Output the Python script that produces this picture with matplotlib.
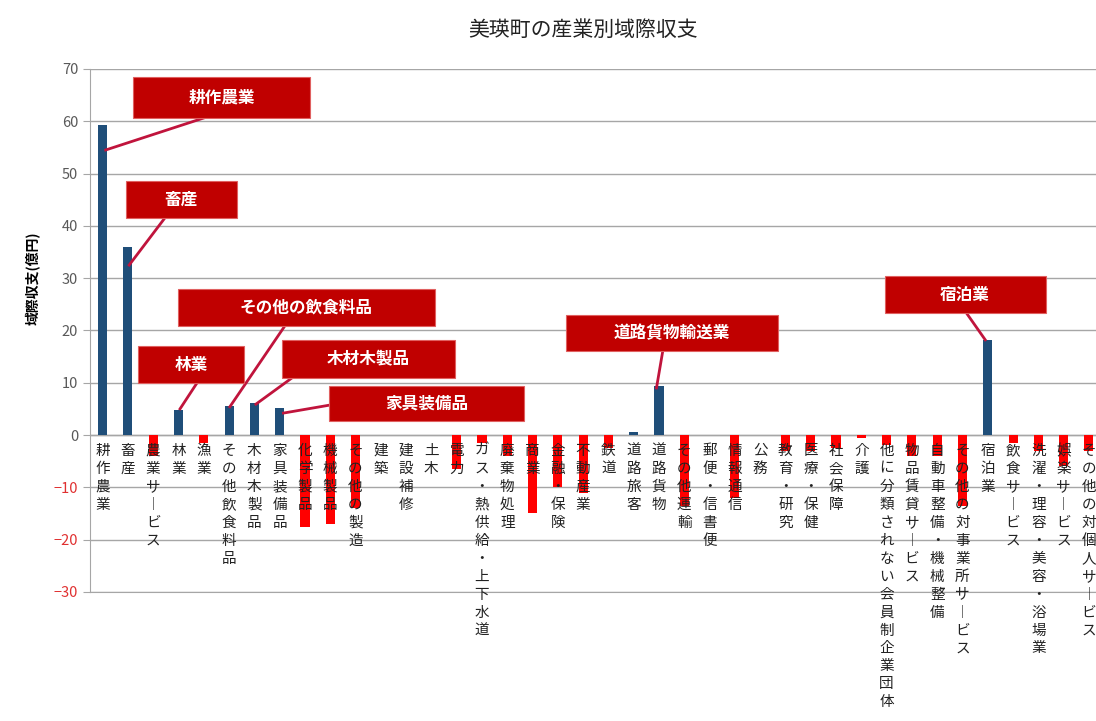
import matplotlib.pyplot as plt
from matplotlib.patches import Rectangle

plt.rcParams['font.family'] = ['Noto Sans CJK JP', 'DejaVu Sans']

# 産業 (左から順)
industries = [
    '耕作農業', '畜産', '農業サービス', '林業', '漁業',
    'その他飲食料品', '木材木製品', '家具装備品', '化学製品', '機械製品',
    'その他の製造', '建築', '建設補修', '土木', '電力',
    'ガス・熱供給・上下水道', '廃棄物処理', '商業', '金融・保険', '不動産業',
    '鉄道', '道路旅客', '道路貨物', 'その他運輸', '郵便・信書便',
    '情報通信', '公務', '教育・研究', '医療・保健', '社会保障',
    '介護', '他に分類されない会員制企業団体', '物品賃貸サービス', '自動車整備・機械整備', 'その他の対事業所サービス',
    '宿泊業', '飲食サービス', '洗濯・理容・美容・浴場業', '娯楽サービス', 'その他の対個人サービス',
]
# 域際収支 (億円)
balance = [
    59.2, 36.0, -4.0, 4.8, -1.5,
    5.6, 6.2, 5.1, -17.5, -17.0,
    -14.0, 0.0, 0.0, 0.0, -6.5,
    -1.5, -4.0, -15.0, -10.0, -11.0,
    -2.5, 0.6, 9.3, -13.5, 0.0,
    -12.0, 0.0, -3.0, -3.0, -2.5,
    -0.5, -2.0, -4.0, -4.0, -13.5,
    18.2, -1.5, -3.0, -6.0, -3.0,
]

# 吹き出し: テキスト, 箱(x0, x1, y0, y1), 線の始点, 線の終点
callouts = [
    ('耕作農業', (1.20, 8.20, 60.7, 68.5), (4.05, 60.7), (0.12, 54.5)),
    ('畜産', (0.92, 5.31, 41.5, 48.6), (2.46, 41.5), (1.05, 32.5)),
    ('その他の飲食料品', (2.98, 13.14, 20.9, 27.9), (7.21, 20.9), (5.03, 5.4)),
    ('林業', (1.40, 5.59, 9.95, 17.0), (3.73, 9.95), (3.06, 5.0)),
    ('木材木製品', (7.09, 13.93, 10.9, 18.2), (7.48, 10.9), (6.06, 5.9)),
    ('家具装備品', (8.95, 16.65, 2.7, 9.4), (8.95, 5.7), (7.15, 4.2)),
    ('道路貨物輸送業', (18.31, 26.69, 16.1, 23.0), (22.15, 16.1), (21.9, 9.0)),
    ('宿泊業', (30.92, 37.29, 23.3, 30.4), (34.16, 23.3), (34.9, 18.2)),
]

fig = plt.figure(figsize=(10.96, 7.21), dpi=100)
ax = fig.add_axes([0.0821, 0.179, 0.923, 0.7254])

x = list(range(len(industries)))
colors = ['#1f4e79' if v >= 0 else '#ff0000' for v in balance]
ax.bar(x, balance, width=0.36, color=colors, zorder=2)

ax.set_xlim(-0.5, len(industries) - 0.5)
ax.set_ylim(-30, 70)
ax.set_yticks(range(-30, 71, 10))
ax.yaxis.grid(True, color='#a6a6a6', linewidth=1)
ax.set_axisbelow(True)
ax.axhline(0, color='#a6a6a6', linewidth=1, zorder=1)
ax.set_xticks([])
for side in ['top', 'right']:
    ax.spines[side].set_visible(False)
ax.spines['left'].set_color('#a6a6a6')
ax.spines['bottom'].set_color('#a6a6a6')
ax.tick_params(axis='y', length=5, color='#a6a6a6', labelsize=10.5, labelcolor='#595959')
for lab, val in zip(ax.get_yticklabels(), range(-30, 71, 10)):
    if val < 0:
        lab.set_color('#e03030')

ax.set_ylabel('域際収支(億円)', fontsize=10, fontweight='bold')
ax.yaxis.set_label_coords(-0.049, 0.6)
fig.text(0.532, 0.958, '美瑛町の産業別域際収支', ha='center', va='center', fontsize=15, color='#222222')

# 縦書きのラベル
for i, name in enumerate(industries):
    vert = '\n'.join(ch if ch != 'ー' else '︱' for ch in name)
    ax.text(i, -1.7, vert, ha='center', va='top', fontsize=10.5, linespacing=1.36,
            color='#222222', zorder=3, clip_on=False)

for text, (x0, x1, y0, y1), start, end in callouts:
    ax.plot([start[0], end[0]], [start[1], end[1]], color='#c0143c', linewidth=2, zorder=4)
    ax.add_patch(Rectangle((x0, y0), x1 - x0, y1 - y0, facecolor='#c00000',
                           edgecolor='#e06060', linewidth=0.8, zorder=5))
    ax.text((x0 + x1) / 2, (y0 + y1) / 2, text, ha='center', va='center', color='white',
            fontsize=12, fontweight='bold', zorder=6)

fig.savefig('out.png', dpi=100)
